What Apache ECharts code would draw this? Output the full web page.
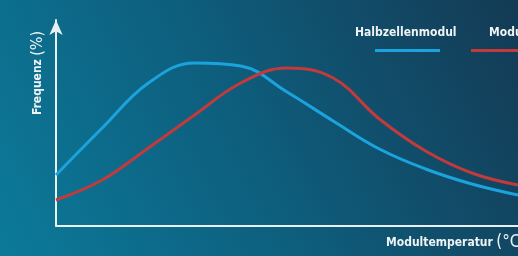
<!DOCTYPE html>
<html>
<head>
<meta charset="utf-8">
<script src="https://cdn.jsdelivr.net/npm/echarts@6/dist/echarts.min.js"></script>
<style>
  html, body { margin: 0; padding: 0; }
  #chart { width: 518px; height: 256px; }
</style>
</head>
<body>
<div id="chart"></div>
<script>
const seriesNames = ['Halbzellenmodul', 'Modul'];
const tempX = [0, 10, 20, 30, 40, 50, 60, 70, 80, 90, 100];
const halbY = [25.5, 49, 71.5, 81.5, 80, 67, 52.5, 38.5, 28.5, 21, 15.5];
const modulY = [13, 23, 39, 55.5, 71.5, 79, 74, 53.5, 37.5, 26.5, 20.5];
const colors = ['#1ba3dd', '#c23a3c'];

const font = '"Liberation Sans Narrow", "DejaVu Sans Condensed", sans-serif';
const zip = (xs, ys) => xs.map((x, i) => [x, ys[i]]);

const chart = echarts.init(document.getElementById('chart'), null, { renderer: 'canvas' });
chart.setOption({
  backgroundColor: {
    type: 'linear', x: 0, y: 1, x2: 1, y2: 0,
    colorStops: [
      { offset: 0, color: '#0c7a9a' },
      { offset: 0.5, color: '#0e5c7b' },
      { offset: 1, color: '#143a54' },
    ],
  },
  animation: false,
  grid: { left: 56, right: 0, top: 20, bottom: 30 },
  xAxis: {
    type: 'value', min: 0, max: 100,
    axisLine: { show: true, lineStyle: { color: '#e8f0f4', width: 2 } },
    axisTick: { show: false }, axisLabel: { show: false }, splitLine: { show: false },
  },
  yAxis: {
    type: 'value', min: 0, max: 103,
    axisLine: {
      show: true, symbol: ['none', 'arrow'], symbolSize: [10, 15],
      lineStyle: { color: '#e8f0f4', width: 2 },
    },
    axisTick: { show: false }, axisLabel: { show: false }, splitLine: { show: false },
  },
  series: [
    { name: seriesNames[0], type: 'line', smooth: 0.4, symbol: 'none',
      data: zip(tempX, halbY), lineStyle: { color: colors[0], width: 3 } },
    { name: seriesNames[1], type: 'line', smooth: 0.4, symbol: 'none',
      data: zip(tempX, modulY), lineStyle: { color: colors[1], width: 3 } },
  ],
  graphic: [
    { type: 'text', left: 355, top: 27,
      style: { text: seriesNames[0], fill: '#eef3f6', font: 'bold 12px ' + font } },
    { type: 'rect', shape: { x: 375, y: 49, width: 65, height: 3 }, style: { fill: colors[0] } },
    { type: 'text', left: 489, top: 27,
      style: { text: seriesNames[1], fill: '#eef3f6', font: 'bold 12px ' + font } },
    { type: 'rect', shape: { x: 471, y: 49, width: 65, height: 3 }, style: { fill: colors[1] } },
    { type: 'text', x: 38, y: 73, rotation: Math.PI / 2,
      style: {
        text: '{b|Frequenz} {l|(%)}', align: 'center', verticalAlign: 'middle',
        rich: {
          b: { font: 'bold 12px ' + font, fill: '#eef3f6' },
          l: { font: '16px ' + font, fill: '#eef3f6' },
        },
      } },
    { type: 'text', x: 386, y: 243,
      style: {
        text: '{b|Modultemperatur} {l|(°C)}', verticalAlign: 'middle',
        rich: {
          b: { font: 'bold 12px ' + font, fill: '#eef3f6' },
          l: { font: '17px ' + font, fill: '#eef3f6' },
        },
      } },
  ],
});
window.addEventListener('resize', () => chart.resize());
</script>
</body>
</html>
